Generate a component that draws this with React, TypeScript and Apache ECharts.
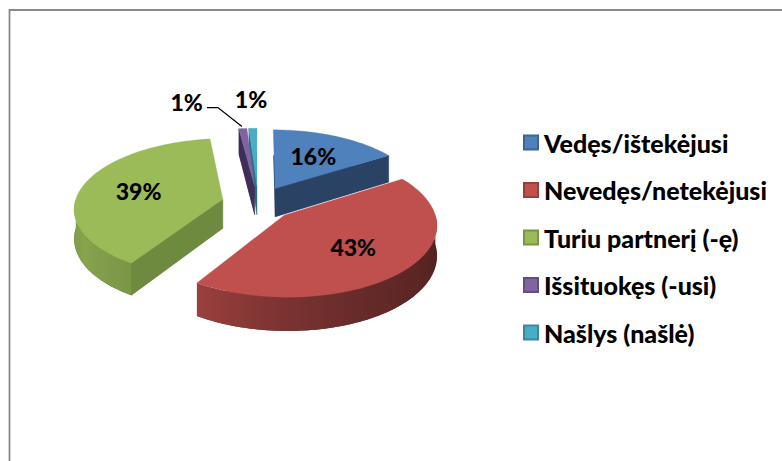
import React, { useEffect, useRef } from 'react';
import * as echarts from 'echarts';

// ---- data ----
const categories = [
  'Vedęs/ištekėjusi',
  'Nevedęs/netekėjusi',
  'Turiu partnerį (-ę)',
  'Išsituokęs (-usi)',
  'Našlys (našlė)',
];
const values = [16, 43, 39, 1, 1];

// ---- styles ----
const topColors = ['#4F81BD', '#C0504D', '#9BBB59', '#8064A2', '#4BACC6'];
const cutColors = ['#2A4364', '#6B2B29', '#6E8A3E', '#3E2F58', '#2B7084'];
const legendBorders = ['#3A6594', '#983E3B', '#7A9446', '#634E80', '#3A889D'];

// ---- 3D pie layout ----
const CX = 258;
const CY = 203;
const RX = 148;
const RY = 69;
const PERSP = 0.12;
const DEPTH = 29;
const EXPLODE = 0.245;
const LABEL_R = 0.6;
const FONT = 'Lato';

const shadeStops: [number, number][] = [
  [90, 0.4],
  [150, 0.52],
  [180, 0.63],
  [212, 0.8],
  [240, 0.87],
  [270, 0.81],
];

function shadeAt(deg: number): number {
  if (deg <= shadeStops[0][0]) return shadeStops[0][1];
  for (let i = 1; i < shadeStops.length; i++) {
    const [d1, k1] = shadeStops[i];
    const [d0, k0] = shadeStops[i - 1];
    if (deg <= d1) return k0 + ((deg - d0) / (d1 - d0)) * (k1 - k0);
  }
  return shadeStops[shadeStops.length - 1][1];
}

function scaleColor(hex: string, k: number): string {
  const n = parseInt(hex.slice(1), 16);
  const r = Math.round(((n >> 16) & 255) * k);
  const g = Math.round(((n >> 8) & 255) * k);
  const b = Math.round((n & 255) * k);
  return `rgb(${r},${g},${b})`;
}

const total = values.reduce((a, b) => a + b, 0);

function project(u: number, v: number, z: number): number[] {
  const f = 1 / (1 + PERSP * v);
  return [CX + RX * u * f, CY - RY * v * f + DEPTH * z * f];
}

function makeRenderItem(index: number) {
  return (params: any, api: any) => {
    const val = api.value(0) as number;
    let before = 0;
    for (let j = 0; j < index; j++) before += values[j];
    const a1 = (before / total) * Math.PI * 2;
    const a2 = ((before + val) / total) * Math.PI * 2;
    const mid = (a1 + a2) / 2;
    const eu = EXPLODE * Math.sin(mid);
    const ev = EXPLODE * Math.cos(mid);
    const pt = (r: number, th: number, z: number) =>
      project(eu + r * Math.sin(th), ev + r * Math.cos(th), z);
    const steps = (from: number, to: number) =>
      Math.max(2, Math.ceil(((to - from) * 180) / Math.PI / 1.5));
    const arc = (z: number, from: number, to: number) => {
      const n = steps(from, to);
      const pts: number[][] = [];
      for (let k = 0; k <= n; k++) pts.push(pt(1, from + ((to - from) * k) / n, z));
      return pts;
    };
    const top = topColors[index];
    const cut = cutColors[index];
    const children: any[] = [];

    // bottom face
    children.push({
      type: 'polygon',
      shape: { points: [pt(0, 0, 1), ...arc(1, a1, a2)] },
      style: { fill: cut },
    });
    // radial cut faces (visible ones)
    const radial = (th: number) => ({
      type: 'polygon',
      shape: { points: [pt(0, th, 0), pt(1, th, 0), pt(1, th, 1), pt(0, th, 1)] },
      style: { fill: cut, stroke: cut, lineWidth: 0.5 },
    });
    if (Math.sin(a1) < -1e-6) children.push(radial(a1));
    if (Math.sin(a2) > 1e-6) children.push(radial(a2));
    // outer wall (front facing part), one polygon with horizontal gradient
    const w1 = Math.max(a1, Math.PI / 2);
    const w2 = Math.min(a2, (Math.PI * 3) / 2);
    if (w2 > w1) {
      const topArc = arc(0, w1, w2);
      const botArc = arc(1, w1, w2).reverse();
      const n = steps(w1, w2);
      const xs: number[] = [];
      const ks: number[] = [];
      for (let k = 0; k <= n; k++) {
        const th = w1 + ((w2 - w1) * k) / n;
        xs.push(pt(1, th, 0.5)[0]);
        ks.push(shadeAt((th * 180) / Math.PI));
      }
      const xmin = Math.min(...xs);
      const xmax = Math.max(...xs);
      const stops = xs
        .map((x, k) => ({ offset: (x - xmin) / (xmax - xmin || 1), color: scaleColor(top, ks[k]) }))
        .sort((p, q) => p.offset - q.offset);
      children.push({
        type: 'polygon',
        shape: { points: [...topArc, ...botArc] },
        style: {
          fill: {
            type: 'linear',
            x: xmin,
            y: 0,
            x2: xmax,
            y2: 0,
            global: true,
            colorStops: stops,
          },
        },
      });
    }
    // top face
    children.push({
      type: 'polygon',
      shape: { points: [pt(0, 0, 0), ...arc(0, a1, a2)] },
      style: { fill: top, stroke: top, lineWidth: 0.3 },
    });

    // label
    const pct = Math.round((val / total) * 100) + '%';
    const small = val / total < 0.05;
    const textStyle = {
      text: pct,
      fill: '#000',
      fontSize: 23,
      fontWeight: 900,
      fontFamily: FONT,
    };
    if (!small) {
      const p = pt(LABEL_R, mid, 0);
      children.push({
        type: 'text',
        x: p[0],
        y: p[1],
        style: { ...textStyle, align: 'center', verticalAlign: 'middle' },
      });
    } else {
      const nextSmall = index < values.length - 1 && values[index + 1] / total < 0.05;
      if (nextSmall) {
        const s = pt(1, mid, 0);
        const start = [s[0] - 1, s[1] - 2];
        const elbow = [start[0] - 24, start[1] - 19];
        const end = [elbow[0] - 11, elbow[1]];
        children.push({
          type: 'polyline',
          shape: { points: [start, elbow, end] },
          style: { stroke: '#000', lineWidth: 1.3, fill: null },
        });
        children.push({
          type: 'text',
          x: end[0] - 4,
          y: end[1] - 6,
          style: { ...textStyle, align: 'right', verticalAlign: 'middle' },
        });
      } else {
        const p = pt(1.6, mid, 0);
        children.push({
          type: 'text',
          x: p[0],
          y: p[1],
          style: { ...textStyle, align: 'center', verticalAlign: 'middle' },
        });
      }
    }
    return { type: 'group', children };
  };
}

function depthRank(): number[] {
  let acc = 0;
  const depth = values.map((v) => {
    const mid = ((acc + v / 2) / total) * Math.PI * 2;
    acc += v;
    return Math.cos(mid);
  });
  const order = depth.map((d, i) => i).sort((a, b) => depth[b] - depth[a]);
  const rank: number[] = [];
  order.forEach((idx, r) => (rank[idx] = r));
  return rank;
}

function buildOption(): any {
  const rank = depthRank();
  return {
    animation: false,
    backgroundColor: '#ffffff',
    color: topColors,
    legend: {
      orient: 'vertical',
      left: 518,
      top: 125,
      itemWidth: 14,
      itemHeight: 14,
      itemGap: 22.5,
      icon: 'rect',
      selectedMode: false,
      data: categories,
      textStyle: {
        fontFamily: FONT,
        fontWeight: 900,
        fontSize: 25,
        lineHeight: 24,
        color: '#000',
        padding: [0, 0, 0, 1],
      },
    },
    graphic: [
      {
        type: 'rect',
        shape: { x: 9.5, y: 10, width: 820, height: 500 },
        style: { fill: null, stroke: '#8a8a8a', lineWidth: 1.8 },
        silent: true,
      },
    ],
    series: categories.map((name, i) => ({
      type: 'custom',
      name,
      coordinateSystem: 'none',
      z: 2 + rank[i],
      itemStyle: { color: topColors[i], borderColor: legendBorders[i], borderWidth: 1 },
      data: [[values[i]]],
      renderItem: makeRenderItem(i),
    })),
  };
}

export default function App() {
  const ref = useRef<HTMLDivElement>(null);
  useEffect(() => {
    const chart = echarts.init(ref.current!, null, { renderer: 'svg' });
    chart.setOption(buildOption());
    return () => chart.dispose();
  }, []);
  return (
    <div
      ref={ref}
      style={{ position: 'absolute', left: 0, top: 0, width: 782, height: 461, background: '#fff' }}
    />
  );
}
